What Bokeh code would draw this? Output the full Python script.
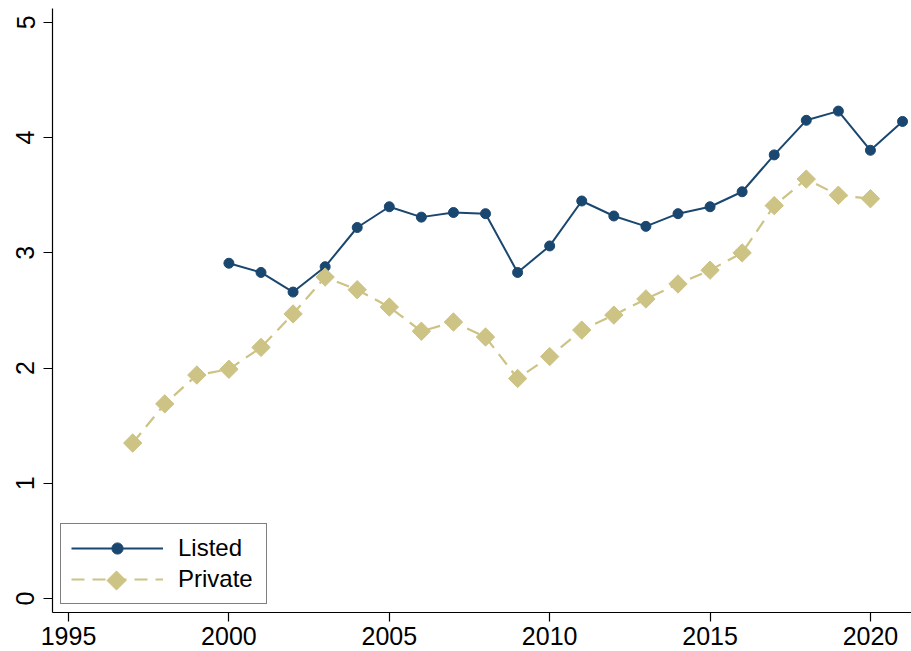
import math
from bokeh.plotting import figure
from bokeh.models import Range1d, FixedTicker, Legend, LegendItem
from bokeh.embed import file_html
from bokeh.resources import INLINE

years_listed = [2000, 2001, 2002, 2003, 2004, 2005, 2006, 2007, 2008, 2009, 2010,
                2011, 2012, 2013, 2014, 2015, 2016, 2017, 2018, 2019, 2020, 2021]
listed = [2.91, 2.83, 2.66, 2.88, 3.22, 3.40, 3.31, 3.35, 3.34, 2.83, 3.06,
          3.45, 3.32, 3.23, 3.34, 3.40, 3.53, 3.85, 4.15, 4.23, 3.89, 4.14]

years_private = [1997, 1998, 1999, 2000, 2001, 2002, 2003, 2004, 2005, 2006, 2007,
                 2008, 2009, 2010, 2011, 2012, 2013, 2014, 2015, 2016, 2017, 2018, 2019, 2020]
private = [1.35, 1.69, 1.94, 1.99, 2.18, 2.47, 2.79, 2.68, 2.53, 2.32, 2.40,
           2.27, 1.91, 2.10, 2.33, 2.46, 2.60, 2.73, 2.85, 3.00, 3.41, 3.64, 3.50, 3.47]

x_ticks = [1995, 2000, 2005, 2010, 2015, 2020]
y_ticks = [0, 1, 2, 3, 4, 5]

NAVY = "#1a476f"
KHAKI = "#cdc385"
FONT = "Liberation Sans"

W, H = 911, 651
BL, BB, BT, BR = 52, 39, 8, 0
X0, X1 = 1994.5, 2021.28
Y0, Y1 = -0.12, 5.12

p = figure(width=W, height=H, output_backend="svg", toolbar_location=None,
           x_range=Range1d(X0, X1), y_range=Range1d(Y0, Y1),
           min_border_left=BL, min_border_bottom=BB, min_border_top=BT, min_border_right=BR)
p.outline_line_color = None
p.xgrid.visible = False
p.ygrid.visible = False
p.background_fill_color = "white"
p.border_fill_color = "white"

for ax in (p.xaxis[0], p.yaxis[0]):
    ax.axis_line_color = "black"
    ax.axis_line_width = 1.2
    ax.major_tick_line_color = "black"
    ax.major_tick_line_width = 1.2
    ax.major_tick_out = 9
    ax.major_tick_in = 0
    ax.minor_tick_line_color = None
    ax.major_label_text_font = FONT
    ax.major_label_text_font_size = "25px"
    ax.major_label_text_color = "black"

p.xaxis[0].major_label_standoff = 5
p.yaxis[0].major_label_standoff = 9
p.xaxis[0].ticker = FixedTicker(ticks=x_ticks)
p.yaxis[0].ticker = FixedTicker(ticks=y_ticks)
p.yaxis[0].major_label_orientation = "vertical"

l1 = p.line(years_listed, listed, line_color=NAVY, line_width=2)
m1 = p.scatter(years_listed, listed, marker="circle", size=10, fill_color=NAVY, line_color=NAVY)
l2 = p.line(years_private, private, line_color=KHAKI, line_width=2.2, line_dash="13 8")
m2 = p.scatter(years_private, private, marker="square", size=13, angle=math.pi / 4,
               fill_color=KHAKI, line_color=KHAKI)

PAD, GW, GH, SP, LS, LW = 10, 92, 28, 3, 15, 78
LOC = (8, 8)
legend = Legend(items=[LegendItem(label="Listed", renderers=[l1, m1]),
                       LegendItem(label="Private", renderers=[l2])],
                location=LOC)
legend.border_line_color = "black"
legend.border_line_width = 1.2
legend.label_text_font = FONT
legend.label_text_font_size = "24px"
legend.label_text_color = "black"
legend.glyph_width = GW
legend.glyph_height = GH
legend.label_height = GH
legend.label_width = LW
legend.label_standoff = LS
legend.spacing = SP
legend.padding = PAD
legend.margin = 0
legend.background_fill_alpha = 0
p.add_layout(legend)

# rotated-square key for the "Private" legend entry, placed under the legend glyph area
fw = W - BL - BR
fh = H - BB - BT
kx_px = LOC[0] + PAD + GW / 2
ky_px = LOC[1] + PAD + GH / 2
kx = X0 + kx_px * (X1 - X0) / fw
ky = Y0 + ky_px * (Y1 - Y0) / fh
key = p.scatter([kx], [ky], marker="square", size=13.5, angle=math.pi / 4,
                fill_color=KHAKI, line_color=KHAKI)

open("out.html", "w").write(file_html(p, INLINE))
